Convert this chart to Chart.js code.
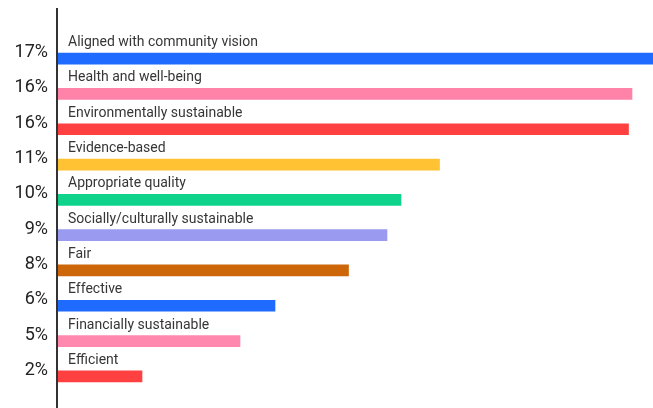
<!DOCTYPE html>
<html>
<head>
<meta charset="utf-8">
<script src="https://cdn.jsdelivr.net/npm/chart.js@4/dist/chart.umd.min.js"></script>
<style>
  html, body { margin: 0; padding: 0; background: #ffffff; }
  #wrap { width: 653px; height: 408px; position: relative; }
</style>
</head>
<body>
<div id="wrap"><canvas id="c"></canvas></div>
<script>
const categories = [
  "Aligned with community vision",
  "Health and well-being",
  "Environmentally sustainable",
  "Evidence-based",
  "Appropriate quality",
  "Socially/culturally sustainable",
  "Fair",
  "Effective",
  "Financially sustainable",
  "Efficient"
];
const tickLabels = ["17%", "16%", "16%", "11%", "10%", "9%", "8%", "6%", "5%", "2%"];
const values = [17.0, 16.4, 16.3, 10.9, 9.8, 9.4, 8.3, 6.2, 5.2, 2.4];
const barColors = ["#1f6bff", "#ff82a9", "#ff4040", "#ffc233", "#0fd38b", "#9a9bf0", "#cc6608", "#1f6bff", "#ff88ae", "#ff4040"];

const labelPlugin = {
  id: 'catLabels',
  afterDatasetsDraw(chart) {
    const ctx = chart.ctx;
    const meta = chart.getDatasetMeta(0);
    const area = chart.chartArea;
    ctx.save();
    ctx.font = '14px Roboto';
    ctx.fillStyle = '#363636';
    ctx.textAlign = 'left';
    ctx.textBaseline = 'alphabetic';
    meta.data.forEach((bar, i) => {
      ctx.fillText(categories[i], area.left + 10, bar.y - 12.5);
    });
    // axis line
    ctx.strokeStyle = '#333333';
    ctx.lineWidth = 2;
    ctx.beginPath();
    ctx.moveTo(area.left - 1, 8);
    ctx.lineTo(area.left - 1, chart.height);
    ctx.stroke();
    ctx.restore();
  }
};

new Chart(document.getElementById('c'), {
  type: 'bar',
  data: {
    labels: tickLabels,
    datasets: [{
      data: values,
      backgroundColor: barColors,
      barThickness: 11,
      borderWidth: 0
    }]
  },
  options: {
    indexAxis: 'y',
    responsive: true,
    maintainAspectRatio: false,
    animation: false,
    layout: { padding: { top: 41, bottom: 14, left: 0, right: 0 } },
    plugins: { legend: { display: false }, tooltip: { enabled: false } },
    scales: {
      x: { display: false, min: 0, max: 17 },
      y: {
        afterFit(scale) {
          scale.width = 58;
          scale.paddingTop = 0;
          scale.paddingBottom = 0;
        },
        grid: { display: false, drawTicks: false },
        border: { display: false },
        ticks: {
          padding: 10,
          labelOffset: -6,
          color: '#222222',
          font: { family: 'Roboto', size: 18 }
        }
      }
    }
  },
  plugins: [labelPlugin]
});
</script>
</body>
</html>
